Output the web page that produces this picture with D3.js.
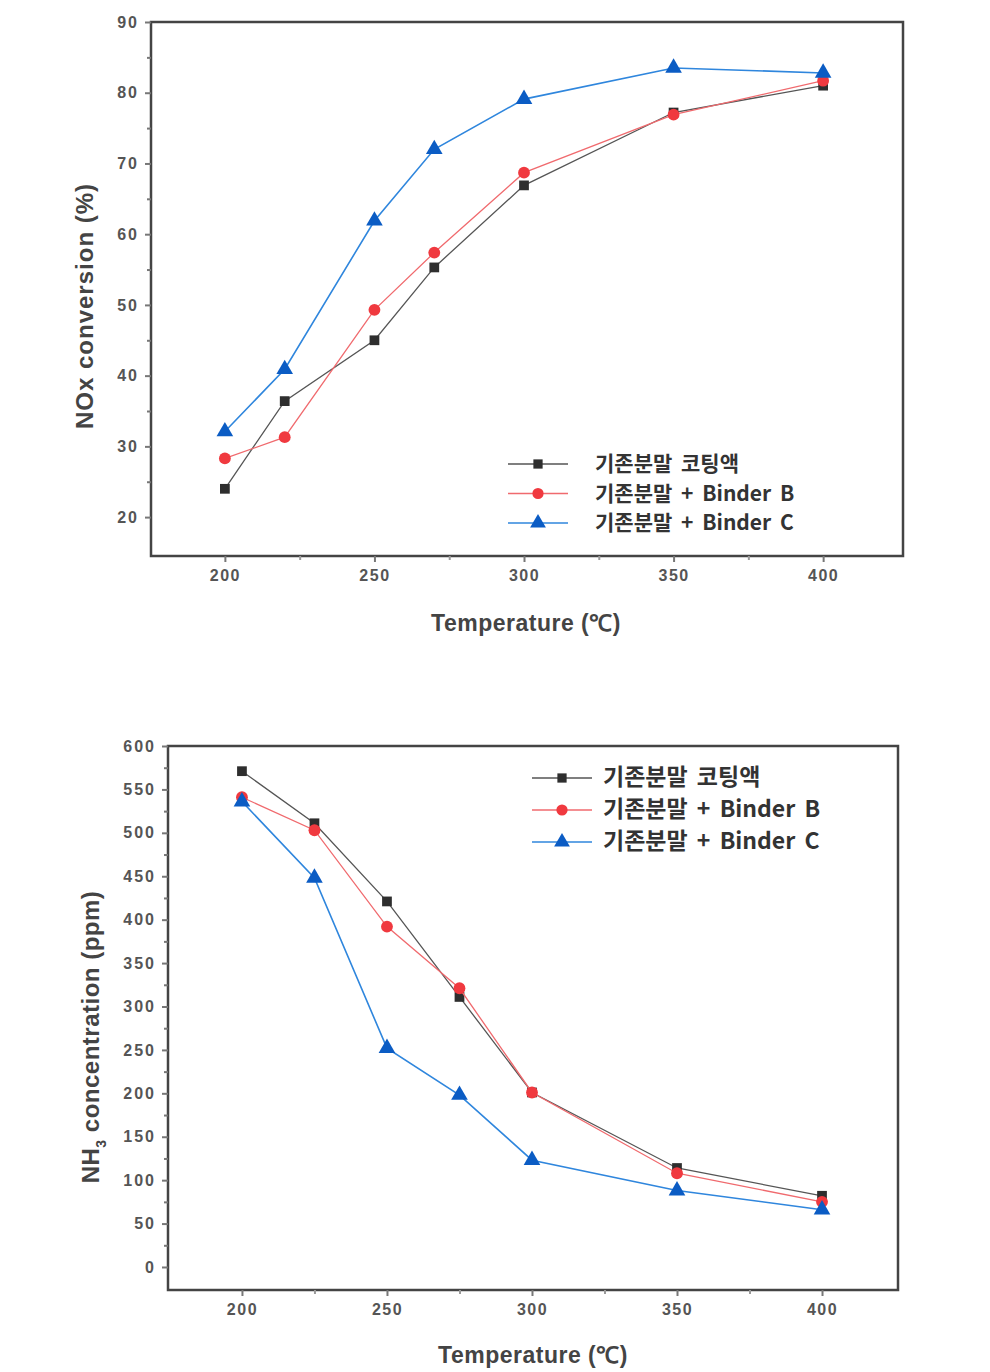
<!DOCTYPE html>
<html><head><meta charset="utf-8">
<script src="https://cdn.jsdelivr.net/npm/d3@7"></script>
<style>body{margin:0;background:#fff}svg{display:block}</style>
</head><body>
<svg id="c" width="990" height="1372"></svg>
<script>
// ---- Data ----
const seriesNames = ["기존분말 코팅액", "기존분말 + Binder B", "기존분말 + Binder C"];
// Top chart: NOx conversion (%)
const noxTemps = [200, 220, 250, 270, 300, 350, 400];
const noxBase = [24.0, 36.4, 45.0, 55.3, 66.9, 77.2, 81.0];
const noxBinderB = [28.3, 31.3, 49.3, 57.4, 68.7, 76.9, 81.7];
const noxBinderC = [32.1, 40.9, 61.9, 72.0, 79.1, 83.5, 82.8];
const noxYTicks = [20, 30, 40, 50, 60, 70, 80, 90];
const noxXTicks = [200, 250, 300, 350, 400];
// Bottom chart: NH3 concentration (ppm)
const nh3Temps = [200, 225, 250, 275, 300, 350, 400];
const nh3Base = [571, 511, 421, 311, 201, 114, 82];
const nh3BinderB = [541, 503, 392, 321, 201, 108, 75];
const nh3BinderC = [536, 448, 252, 198, 123, 88, 66];
const nh3YTicks = [0, 50, 100, 150, 200, 250, 300, 350, 400, 450, 500, 550, 600];
const nh3XTicks = [200, 250, 300, 350, 400];

const styles = [
  {line:"#555", fill:"#2e2e2e", sym:d3.symbolSquare, size:95, lw:1.3},
  {line:"#f06a6e", fill:"#f0393f", sym:d3.symbolCircle, size:110, lw:1.3},
  {line:"#2f86dd", fill:"#0b5cc4", sym:d3.symbolTriangle, size:120, lw:1.6}
];

const svg = d3.select("#c");
const axisCol = "#444";
const font = "'Liberation Sans', Arial, sans-serif";

function panel(o){
  const g = svg.append("g");
  const x = d3.scaleLinear().domain(o.xDom).range([o.L, o.R]);
  const y = d3.scaleLinear().domain(o.yDom).range([o.B, o.T]);
  g.append("rect").attr("x", o.L).attr("y", o.T).attr("width", o.R-o.L).attr("height", o.B-o.T)
    .attr("fill","none").attr("stroke", axisCol).attr("stroke-width", 2.5);
  const ya = g.append("g").attr("transform",`translate(${o.L},0)`)
    .call(d3.axisLeft(y).tickValues(o.yTicks).tickSize(6).tickPadding(6).tickFormat(d3.format("d")));
  ya.select(".domain").remove();
  ya.selectAll("line").attr("stroke","#777").attr("stroke-width",2);
  ya.selectAll("text").attr("font-family", font).attr("font-weight","bold").attr("font-size",16)
    .attr("fill","#555").attr("letter-spacing","2px");
  const yminor = g.append("g").attr("transform",`translate(${o.L},0)`)
    .call(d3.axisLeft(y).tickValues(o.yMinor).tickSize(4).tickFormat(""));
  yminor.select(".domain").remove();
  yminor.selectAll("line").attr("stroke","#777").attr("stroke-width",2);
  const xa = g.append("g").attr("transform",`translate(0,${o.B})`)
    .call(d3.axisBottom(x).tickValues(o.xTicks).tickSize(6).tickPadding(8).tickFormat(d3.format("d")));
  xa.select(".domain").remove();
  xa.selectAll("line").attr("stroke","#777").attr("stroke-width",2);
  xa.selectAll("text").attr("font-family", font).attr("font-weight","bold").attr("font-size",16)
    .attr("fill","#555").attr("letter-spacing","1.5px");
  const xminor = g.append("g").attr("transform",`translate(0,${o.B})`)
    .call(d3.axisBottom(x).tickValues(o.xMinor).tickSize(4).tickFormat(""));
  xminor.select(".domain").remove();
  xminor.selectAll("line").attr("stroke","#999").attr("stroke-width",2);
  o.series.forEach((vals, i) => {
    const st = styles[i];
    const pts = o.xs.map((t, j) => [t, vals[j]]);
    g.append("path").datum(pts)
      .attr("d", d3.line().x(d => x(d[0])).y(d => y(d[1])))
      .attr("fill","none").attr("stroke", st.line).attr("stroke-width", st.lw);
    g.selectAll(null).data(pts).enter().append("path")
      .attr("d", d3.symbol().type(st.sym).size(st.size))
      .attr("transform", d => `translate(${x(d[0])},${y(d[1])})`)
      .attr("fill", st.fill);
  });
  seriesNames.forEach((name, i) => {
    const st = styles[i];
    const ly = o.legY + i*o.legDy;
    g.append("line").attr("x1", o.legX).attr("x2", o.legX+60).attr("y1", ly).attr("y2", ly)
      .attr("stroke", st.line).attr("stroke-width", 1.6);
    g.append("path").attr("d", d3.symbol().type(st.sym).size(st.size*0.9)())
      .attr("transform", `translate(${o.legX+30},${ly})`).attr("fill", st.fill);
    g.append("text").attr("x", o.legTextX).attr("y", ly+7).text(name)
      .attr("font-family","'Noto Sans CJK KR', sans-serif").attr("font-weight","bold")
      .attr("font-size",o.legSize).attr("fill","#333").attr("word-spacing","4px");
  });
  g.append("text").attr("x", o.xTitleX).attr("y", o.xTitleY).attr("text-anchor","middle")
    .attr("font-family", font).attr("font-weight","bold").attr("font-size",23).attr("fill","#444")
    .attr("letter-spacing","0.5px")
    .text("Temperature (℃)");
  const yt = g.append("text").attr("transform", `translate(${o.yTitleX},${o.yTitleY}) rotate(-90)`)
    .attr("text-anchor","middle").attr("font-family", font).attr("font-weight","bold")
    .attr("font-size",o.yTitleSize).attr("fill","#444").attr("letter-spacing", o.yTitleLs);
  o.yTitle(yt);
}

panel({
  L:151, R:903, T:22, B:556,
  xDom:[175.3, 426.7], yDom:[14.5, 90],
  yTicks: noxYTicks, yMinor:[25,35,45,55,65,75,85],
  xTicks: noxXTicks, xMinor:[225,275,325,375],
  xs: noxTemps, series:[noxBase, noxBinderB, noxBinderC],
  legX:508, legY:464, legDy:29.5, legTextX:595, legSize:21,
  xTitleX:526, xTitleY:631, yTitleX:93, yTitleY:306, yTitleSize:24, yTitleLs:"1px",
  yTitle: t => t.text("NOx conversion (%)")
});

panel({
  L:168, R:898, T:746, B:1290,
  xDom:[174.5, 426.2], yDom:[-26.5, 600],
  yTicks: nh3YTicks, yMinor: d3.range(25, 600, 50),
  xTicks: nh3XTicks, xMinor:[225,275,325,375],
  xs: nh3Temps, series:[nh3Base, nh3BinderB, nh3BinderC],
  legX:532, legY:778, legDy:32, legTextX:603, legSize:23,
  xTitleX:533, xTitleY:1363, yTitleX:99, yTitleY:1037, yTitleSize:24, yTitleLs:"0.5px",
  yTitle: t => { t.append("tspan").text("NH");
    t.append("tspan").attr("font-size",14).attr("dy",7).text("3");
    t.append("tspan").attr("dy",-7).text(" concentration (ppm)"); }
});
</script>
</body></html>
